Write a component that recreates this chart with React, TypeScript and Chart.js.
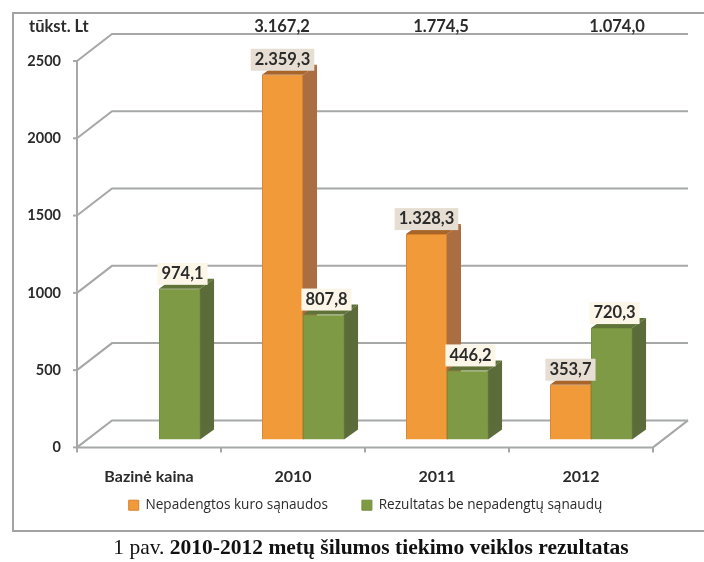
import React, { useEffect, useRef } from "react";
import { Chart, registerables } from "chart.js";

Chart.register(...registerables);

const categories = ["Bazinė kaina", "2010", "2011", "2012"];
const fuelCosts = [null, 2359.3, 1328.3, 353.7];
const resultWithout = [974.1, 807.8, 446.2, 720.3];
const fuelLabels = ["", "2.359,3", "1.328,3", "353,7"];
const resultLabels = ["974,1", "807,8", "446,2", "720,3"];
const seriesNames = ["Nepadengtos kuro sąnaudos", "Rezultatas be nepadengtų sąnaudų"];
const totals = [
  { text: "3.167,2", x: 282 },
  { text: "1.774,5", x: 441 },
  { text: "1.074,0", x: 617 },
];
const unitLabel = "tūkst. Lt";
const captionLead = "1 pav. ";
const captionBold = "2010-2012 metų šilumos tiekimo veiklos rezultatas";

const WALL_DX = 35;
const WALL_DY = -27;
const BAR_SHIFT_X = 10;
const BAR_SHIFT_Y = -8;
const BAR_DX = 14;
const BAR_DY = -10;
const GRID = "#a6a8a8";
const INK = "#2b2b2b";
const FONT = "Lato, 'Open Sans', sans-serif";

const wallPlugin = {
  id: "walls",
  beforeDraw(chart: any) {
    const { ctx } = chart;
    ctx.save();
    ctx.fillStyle = "#ffffff";
    ctx.fillRect(0, 0, chart.width, chart.height);
    ctx.strokeStyle = "#a2a4a4";
    ctx.lineWidth = 2;
    ctx.strokeRect(13, 13, 700, 518);
    ctx.restore();
  },
  beforeDatasetsDraw(chart: any) {
    const { ctx, chartArea, scales } = chart;
    ctx.save();
    ctx.strokeStyle = GRID;
    ctx.lineWidth = 2;
    for (const t of scales.y.ticks) {
      const y = scales.y.getPixelForValue(t.value);
      ctx.beginPath();
      ctx.moveTo(chartArea.left, y);
      ctx.lineTo(chartArea.left + WALL_DX, y + WALL_DY);
      ctx.lineTo(chartArea.right + WALL_DX, y + WALL_DY);
      ctx.stroke();
    }
    const y0 = scales.y.getPixelForValue(0);
    ctx.beginPath();
    ctx.moveTo(chartArea.left, y0);
    ctx.lineTo(chartArea.right, y0);
    ctx.lineTo(chartArea.right + WALL_DX, y0 + WALL_DY);
    ctx.moveTo(chartArea.left, chartArea.top);
    ctx.lineTo(chartArea.left, y0);
    ctx.stroke();
    for (let i = 0; i <= categories.length; i++) {
      const x = chartArea.left + (i * (chartArea.right - chartArea.left)) / categories.length;
      ctx.beginPath();
      ctx.moveTo(x, y0);
      ctx.lineTo(x, y0 + 5);
      ctx.stroke();
    }
    for (const t of scales.y.ticks) {
      const y = scales.y.getPixelForValue(t.value);
      ctx.beginPath();
      ctx.moveTo(chartArea.left - 4, y);
      ctx.lineTo(chartArea.left, y);
      ctx.stroke();
    }
    ctx.restore();

    ctx.save();
    ctx.translate(BAR_SHIFT_X, BAR_SHIFT_Y);
    chart.data.datasets.forEach((ds: any, di: number) => {
      chart.getDatasetMeta(di).data.forEach((bar: any, i: number) => {
        if (ds.data[i] == null) return;
        const half = bar.width / 2;
        const l = bar.x - half;
        const r = bar.x + half;
        const t = bar.y;
        const b = bar.base;
        ctx.fillStyle = ds.sideColor;
        ctx.beginPath();
        ctx.moveTo(r, t);
        ctx.lineTo(r + BAR_DX, t + BAR_DY);
        ctx.lineTo(r + BAR_DX, b + BAR_DY);
        ctx.lineTo(r, b);
        ctx.closePath();
        ctx.fill();
        ctx.fillStyle = ds.topColor;
        ctx.beginPath();
        ctx.moveTo(l, t);
        ctx.lineTo(l + BAR_DX, t + BAR_DY);
        ctx.lineTo(r + BAR_DX, t + BAR_DY);
        ctx.lineTo(r, t);
        ctx.closePath();
        ctx.fill();
      });
    });
  },
  afterDatasetsDraw(chart: any) {
    const { ctx } = chart;
    ctx.restore();
    ctx.save();
    ctx.textAlign = "center";
    ctx.textBaseline = "middle";
    ctx.font = `700 16.5px ${FONT}`;
    chart.data.datasets.forEach((ds: any, di: number) => {
      chart.getDatasetMeta(di).data.forEach((bar: any, i: number) => {
        const label = ds.valueLabels[i];
        if (!label) return;
        const x = bar.x + BAR_SHIFT_X + ds.labelShift;
        const y = bar.y + BAR_SHIFT_Y - 15;
        const w = ctx.measureText(label).width + 8;
        ctx.fillStyle = ds.labelBack;
        ctx.fillRect(x - w / 2, y - 11, w, 22);
        ctx.fillStyle = INK;
        ctx.fillText(label, x, y);
      });
    });

    ctx.fillStyle = INK;
    ctx.textAlign = "left";
    ctx.fillText(unitLabel, 29, 27);
    ctx.textAlign = "center";
    for (const t of totals) ctx.fillText(t.text, t.x, 27);

    ctx.textAlign = "left";
    ctx.fillStyle = "#111111";
    ctx.font = "400 21.5px 'Liberation Serif', serif";
    const leadW = ctx.measureText(captionLead).width;
    ctx.font = "700 21.5px 'Liberation Serif', serif";
    const boldW = ctx.measureText(captionBold).width;
    const startX = 371 - (leadW + boldW) / 2;
    ctx.font = "400 21.5px 'Liberation Serif', serif";
    ctx.fillText(captionLead, startX, 548);
    ctx.font = "700 21.5px 'Liberation Serif', serif";
    ctx.fillText(captionBold, startX + leadW, 548);
    ctx.restore();
  },
  afterLayout(chart: any) {
    if (chart.legend) {
      chart.legend.left += 39;
      chart.legend.right += 39;
      chart.legend.top -= 19;
      chart.legend.bottom -= 19;
    }
  },
};

export default function App() {
  const ref = useRef<HTMLCanvasElement | null>(null);
  useEffect(() => {
    document.body.style.margin = "0";
    const chart = new Chart(ref.current as HTMLCanvasElement, {
      type: "bar",
      data: {
        labels: categories,
        datasets: [
          {
            label: seriesNames[0],
            data: fuelCosts,
            backgroundColor: "#f09a3a",
            borderColor: "#d9822b",
            borderWidth: 1,
            sideColor: "#ab6e42",
            topColor: "#a8652a",
            valueLabels: fuelLabels,
            labelBack: "#e6ded2",
            labelShift: 0,
            clip: false,
          },
          {
            label: seriesNames[1],
            data: resultWithout,
            backgroundColor: "#7f9a45",
            borderColor: "#73903c",
            borderWidth: 1,
            sideColor: "#5b6b3a",
            topColor: "#5f7238",
            valueLabels: resultLabels,
            labelBack: "#fbf6e8",
            labelShift: 3,
            clip: false,
          },
        ] as any,
      },
      options: {
        responsive: false,
        animation: false,
        layout: { padding: { left: 0, right: 51, top: 61, bottom: 21 } },
        datasets: { bar: { barPercentage: 1, categoryPercentage: 0.57 } },
        scales: {
          x: {
            grid: { display: false },
            border: { display: false },
            ticks: {
              color: INK,
              padding: 12,
              font: { family: FONT, size: 16, weight: "700" },
            },
            afterFit: (s: any) => {
              s.height = 36;
            },
          },
          y: {
            min: 0,
            max: 2500,
            grid: { display: false },
            border: { display: false },
            ticks: {
              stepSize: 500,
              color: INK,
              padding: 8,
              font: { family: FONT, size: 14.5, weight: "700" },
              callback: (v: any) => String(v),
            },
            afterFit: (s: any) => {
              s.width = 77;
            },
          },
        },
        plugins: {
          tooltip: { enabled: false },
          legend: {
            position: "bottom",
            labels: {
              boxWidth: 10,
              boxHeight: 10,
              padding: 34,
              color: INK,
              font: { family: "'Open Sans', sans-serif", size: 13.6 },
            },
          },
        },
      } as any,
      plugins: [wallPlugin],
    });
    return () => chart.destroy();
  }, []);
  return (
    <canvas
      ref={ref}
      width={704}
      height={562}
      style={{ display: "block", width: 704, height: 562, filter: "blur(0.5px)" }}
    />
  );
}
